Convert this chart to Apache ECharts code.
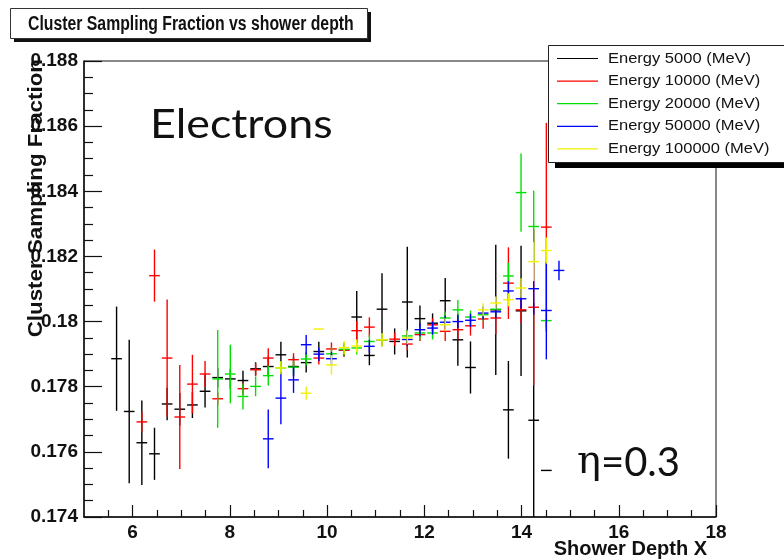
<!DOCTYPE html>
<html>
<head>
<meta charset="utf-8">
<script src="https://cdn.jsdelivr.net/npm/echarts@6/dist/echarts.min.js"></script>
<style>
html, body { margin: 0; padding: 0; background: #ffffff; }
#chart { width: 784px; height: 560px; }
</style>
</head>
<body>
<div id="chart"></div>
<script>
// Shower-depth bin centres shared by all energies
const binCentres = [5.67, 5.93, 6.19, 6.45, 6.71, 6.97, 7.23, 7.49, 7.75, 8.01, 8.27, 8.53,
  8.79, 9.05, 9.31, 9.57, 9.83, 10.09, 10.35, 10.61, 10.87, 11.13, 11.39, 11.65,
  11.91, 12.17, 12.43, 12.69, 12.95, 13.21, 13.47, 13.73, 13.99, 14.25, 14.51, 14.77];

const seriesNames = ['Energy 5000 (MeV)', 'Energy 10000 (MeV)', 'Energy 20000 (MeV)',
  'Energy 50000 (MeV)', 'Energy 100000 (MeV)'];

// Sampling fraction per bin and its uncertainty (null = empty bin)
const frac5000 = [0.17886, 0.17724, 0.17628, 0.17594, 0.17747, 0.17731, 0.17744, 0.17786, 0.17828, 0.17824, 0.17819, 0.17855,
  0.17862, 0.17898, 0.17862, 0.17874, 0.17908, null, 0.17913, 0.18014, 0.17896, 0.18038, 0.17939, 0.18060,
  0.18009, 0.17995, 0.18064, 0.17944, 0.17859, null, 0.18036, 0.17729, 0.18033, 0.17697, 0.17543, null];
const err5000 = [0.0016, 0.0022, 0.0013, 0.0008, 0.0005, 0.0005, 0.0004, 0.0005, 0.0003, 0.0003, 0.0003, 0.0002,
  0.0003, 0.0004, 0.0003, 0.0003, 0.0003, null, 0.0002, 0.0008, 0.0003, 0.0011, 0.0004, 0.0017,
  0.0004, 0.0003, 0.0007, 0.0008, 0.0008, null, 0.0020, 0.0015, 0.0020, 0.0036, 0, null];

const frac10000 = [null, null, 0.17692, 0.18141, 0.17888, 0.17707, 0.17808, 0.17839, 0.17763, null, 0.17794, 0.17852,
  0.17888, null, 0.17883, null, 0.17888, 0.17916, 0.17913, 0.17972, 0.17983, 0.17944, 0.17946, 0.17931,
  0.17960, 0.17990, 0.17970, 0.17975, 0.17987, 0.18008, 0.18011, 0.18118, 0.18036, 0.18044, 0.18290, null];
const err10000 = [null, null, 0.0003, 0.0008, 0.0018, 0.0016, 0.0009, 0.0004, 0.0002, null, 0.0002, 0.0002,
  0.0003, null, 0.0002, null, 0.0002, 0.0002, 0.0002, 0.0003, 0.0003, 0.0002, 0.0002, 0.0002,
  0.0002, 0.0002, 0.0003, 0.0003, 0.0003, 0.0003, 0.0005, 0.0011, 0.0004, 0.0024, 0.0032, null];

const frac20000 = [null, null, null, null, null, null, null, null, 0.17824, 0.17839, 0.17770, 0.17801,
  0.17834, 0.17858, 0.17860, 0.17885, null, 0.17901, 0.17915, 0.17919, 0.17939, 0.17944, null, 0.17956,
  0.17965, 0.17965, 0.18011, 0.18036, 0.18014, 0.18021, 0.18038, 0.18140, 0.18396, 0.18292, 0.18003, null];
const err20000 = [null, null, null, null, null, null, null, null, 0.0015, 0.0009, 0.0004, 0.0003,
  0.0003, 0.0002, 0.0002, 0.0002, null, 0.0002, 0.0002, 0.0002, 0.0002, 0.0002, null, 0.0002,
  0.0002, 0.0002, 0.0002, 0.0003, 0.0002, 0.0002, 0.0002, 0.0004, 0.0012, 0.0011, 0.0002, null];

const frac50000 = [null, null, null, null, null, null, null, null, null, null, null, null,
  0.17640, 0.17765, 0.17821, 0.17929, 0.17900, 0.17886, null, null, 0.17924, null, null, 0.17945,
  0.17975, 0.17980, 0.17998, 0.18000, 0.18004, 0.18026, 0.18030, 0.18094, 0.18070, 0.18101, 0.18034, 0.18157];
const err50000 = [null, null, null, null, null, null, null, null, null, null, null, null,
  0.0009, 0.0008, 0.0004, 0.0003, 0.0002, 0.0002, null, null, 0.0002, null, null, 0.0002,
  0.0002, 0.0002, 0.0002, 0.0002, 0.0002, 0.0002, 0.0002, 0.0003, 0.0003, 0.0008, 0.0015, 0.0003];

const frac100000 = [null, null, null, null, null, null, null, null, null, null, null, null,
  null, 0.17858, null, 0.17780, 0.17977, 0.17867, 0.17920, 0.17925, null, 0.17944, null, 0.17950,
  null, null, 0.17990, null, null, 0.18036, 0.18057, 0.18067, 0.18103, 0.18184, 0.18218, null];
const err100000 = [null, null, null, null, null, null, null, null, null, null, null, null,
  null, 0.0002, null, 0.0002, 0, 0.0003, 0.0002, 0.0002, null, 0.0002, null, 0.0002,
  null, null, 0.0002, null, null, 0.0002, 0.0002, 0.0002, 0.0003, 0.0006, 0.0004, null];

// Axis tick positions and labels
const xMajorTicks = [6, 8, 10, 12, 14, 16, 18];
const xMinorTicks = [5.5, 6.5, 7, 7.5, 8.5, 9, 9.5, 10.5, 11, 11.5, 12.5, 13, 13.5,
  14.5, 15, 15.5, 16.5, 17, 17.5];
const yMajorTicks = [0.174, 0.176, 0.178, 0.18, 0.182, 0.184, 0.186, 0.188];
const yMinorTicks = [0.1745, 0.175, 0.1755, 0.1765, 0.177, 0.1775, 0.1785, 0.179, 0.1795,
  0.1805, 0.181, 0.1815, 0.1825, 0.183, 0.1835, 0.1845, 0.185, 0.1855, 0.1865, 0.187, 0.1875];

const chartTitle = 'Cluster Sampling Fraction vs shower depth';
const yTitle = 'Cluster Sampling Fraction';
const xTitle = 'Shower Depth X';

const seriesColours = ['#000000', '#ff0000', '#00e000', '#0000ff', '#f2f200'];
const fracs = [frac5000, frac10000, frac20000, frac50000, frac100000];
const errs = [err5000, err10000, err20000, err50000, err100000];
const HALF_BIN = 0.11;
const LABEL_FONT = 'Liberation Sans, Arial, Helvetica, sans-serif';

function toItems(vals, es) {
  const out = [];
  binCentres.forEach((x, i) => {
    if (vals[i] !== null) out.push([x, vals[i], es[i]]);
  });
  return out;
}

// Histogram-style cross: vertical = uncertainty, horizontal = bin width
function renderCross(params, api) {
  const x = api.value(0), y = api.value(1), e = api.value(2);
  const cs = params.coordSys;
  const c = api.coord([x, y]);
  const top = api.coord([x, y + e]);
  const bot = api.coord([x, y - e]);
  const l = api.coord([x - HALF_BIN, y]);
  const r = api.coord([x + HALF_BIN, y]);
  const clampY = v => Math.max(cs.y, Math.min(cs.y + cs.height, v));
  const style = { stroke: api.visual('color'), lineWidth: 1.4 };
  const children = [
    { type: 'line', shape: { x1: l[0], y1: c[1], x2: r[0], y2: c[1] }, style: style }
  ];
  if (e > 0) {
    children.push({ type: 'line', shape: { x1: c[0], y1: clampY(top[1]), x2: c[0], y2: clampY(bot[1]) }, style: style });
  }
  return { type: 'group', children: children };
}

const series = fracs.map((vals, k) => ({
  name: seriesNames[k],
  type: 'custom',
  renderItem: renderCross,
  xAxisIndex: 0,
  yAxisIndex: 0,
  itemStyle: { color: seriesColours[k] },
  encode: { x: 0, y: 1 },
  data: toItems(vals, errs[k]),
  silent: true,
  z: 2 + k
}));

// Legend box, drawn in the ROOT style with a drop shadow
const legendX = 548, legendY = 45, rowH = 22.6;
const legendGraphics = [
  { type: 'rect', shape: { x: legendX + 7, y: legendY + 5, width: 260, height: 118 }, style: { fill: '#000' }, z: 10 },
  { type: 'rect', shape: { x: legendX + 0.5, y: legendY + 0.5, width: 260, height: 117 }, style: { fill: '#fff', stroke: '#222', lineWidth: 1 }, z: 11 }
];
seriesNames.forEach((name, k) => {
  const cy = legendY + 13.5 + k * rowH;
  legendGraphics.push({ type: 'line', shape: { x1: legendX + 9, y1: cy, x2: legendX + 50, y2: cy }, style: { stroke: seriesColours[k], lineWidth: 1.2 }, z: 12 });
  legendGraphics.push({ type: 'text', x: legendX + 60, y: cy, scaleX: 1.1, style: { text: name, fontFamily: LABEL_FONT, fontSize: 15, fill: '#111', verticalAlign: 'middle', align: 'left' }, z: 12 });
});

const option = {
  animation: false,
  backgroundColor: '#ffffff',
  grid: { left: 84, top: 61, width: 632, height: 456, show: true, borderColor: '#111', borderWidth: 1, backgroundColor: '#fff', containLabel: false, outerBoundsMode: 'none' },
  xAxis: [
    {
      type: 'value', min: 5, max: 18, position: 'bottom',
      axisLine: { show: true, lineStyle: { color: '#111', width: 1.5 } },
      axisTick: { show: true, inside: true, length: 12, customValues: xMajorTicks, lineStyle: { color: '#111', width: 1.2 } },
      axisLabel: { show: true, customValues: xMajorTicks, margin: 6, fontFamily: LABEL_FONT, fontWeight: 'bold', fontSize: 19, color: '#111' },
      splitLine: { show: false }
    },
    {
      type: 'value', min: 5, max: 18, position: 'bottom',
      axisLine: { show: false },
      axisTick: { show: true, inside: true, length: 7, customValues: xMinorTicks, lineStyle: { color: '#111', width: 1.2 } },
      axisLabel: { show: false },
      splitLine: { show: false }
    }
  ],
  yAxis: [
    {
      type: 'value', min: 0.174, max: 0.188, position: 'left',
      axisLine: { show: true, lineStyle: { color: '#111', width: 1.5 } },
      axisTick: { show: true, inside: true, length: 18, customValues: yMajorTicks, lineStyle: { color: '#111', width: 1.2 } },
      axisLabel: { show: true, customValues: yMajorTicks, margin: 6, fontFamily: LABEL_FONT, fontWeight: 'bold', fontSize: 19, color: '#111',
        formatter: v => String(+v.toFixed(3)) },
      splitLine: { show: false }
    },
    {
      type: 'value', min: 0.174, max: 0.188, position: 'left',
      axisLine: { show: false },
      axisTick: { show: true, inside: true, length: 9, customValues: yMinorTicks, lineStyle: { color: '#111', width: 1.2 } },
      axisLabel: { show: false },
      splitLine: { show: false }
    }
  ],
  series: series,
  graphic: [
    // title box with shadow
    { type: 'rect', shape: { x: 14, y: 12, width: 357, height: 30 }, style: { fill: '#111' }, z: 10 },
    { type: 'rect', shape: { x: 10.5, y: 8.5, width: 357, height: 30 }, style: { fill: '#fff', stroke: '#333', lineWidth: 1 }, z: 11 },
    { type: 'text', x: 28, y: 24, scaleX: 0.79, style: { text: chartTitle, fontFamily: LABEL_FONT, fontWeight: 'bold', fontSize: 20, fill: '#111', align: 'left', verticalAlign: 'middle' }, z: 12 },
    // axis titles
    { type: 'text', x: 36, y: 59, rotation: Math.PI / 2, scaleX: 1.065, style: { text: yTitle, fontFamily: LABEL_FONT, fontWeight: 'bold', fontSize: 21, fill: '#111', align: 'right', verticalAlign: 'middle' }, z: 12 },
    { type: 'text', x: 707, y: 549, style: { text: xTitle, fontFamily: LABEL_FONT, fontWeight: 'bold', fontSize: 20, fill: '#111', align: 'right', verticalAlign: 'middle' }, z: 12 },
    // annotations
    { type: 'text', x: 150, y: 125, scaleX: 1.12, style: { text: 'Electrons', fontFamily: 'Lato, Open Sans, sans-serif', fontSize: 40, fill: '#111', align: 'left', verticalAlign: 'middle' }, z: 12 },
    { type: 'text', x: 577, y: 463, style: { text: '{eta|η}{rest|=0.3}', fill: '#111', align: 'left', verticalAlign: 'middle',
      rich: { eta: { fontFamily: 'DejaVu Serif, serif', fontSize: 40, fill: '#111' }, rest: { fontFamily: 'Lato, Open Sans, sans-serif', fontSize: 40, fill: '#111' } } }, z: 12 }
  ].concat(legendGraphics)
};

const chart = echarts.init(document.getElementById('chart'));
chart.setOption(option);
</script>
</body>
</html>
